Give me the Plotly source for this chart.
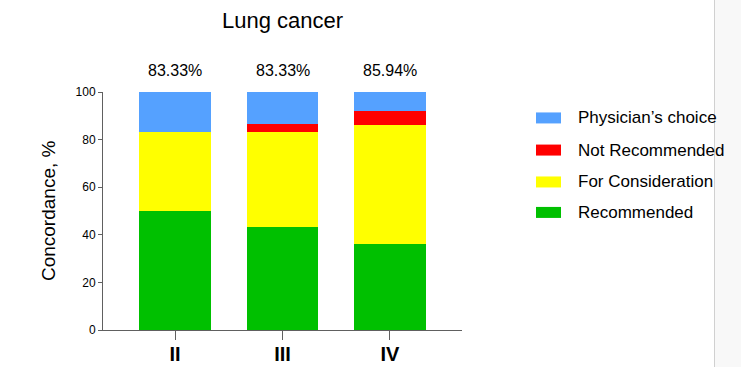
import plotly.graph_objects as go

categories = ["II", "III", "IV"]
series_names = ["Recommended", "For Consideration", "Not Recommended", "Physician\u2019s choice"]
recommended = [50.0, 43.33, 35.94]
for_consideration = [33.33, 40.0, 50.0]
not_recommended = [0.0, 3.33, 6.25]
physicians_choice = [16.67, 13.34, 7.81]
concordance_labels = ["83.33%", "83.33%", "85.94%"]
colors = ["#00C000", "#FFFF00", "#FF0000", "#55A1FF"]
y_ticks = [0, 20, 40, 60, 80, 100]

series_values = [recommended, for_consideration, not_recommended, physicians_choice]
FONT = "Arial, Liberation Sans, sans-serif"

fig = go.Figure()
for name, vals, col in zip(series_names, series_values, colors):
    fig.add_trace(go.Bar(
        x=categories, y=vals, name=name, marker=dict(color=col, line=dict(width=0)),
        width=0.665, showlegend=False,
    ))

annotations = []
for cat, lab in zip(categories, concordance_labels):
    annotations.append(dict(x=cat, y=(330 - 70) / 238, xref="x", yref="paper", text=lab, showarrow=False,
                            font=dict(family=FONT, size=16, color="#000000"),
                            xanchor="center", yanchor="middle"))

# y-axis title
annotations.append(dict(x=-0.153, y=0.5, xref="paper", yref="paper", text="Concordance, %",
                        textangle=-90, showarrow=False, xanchor="center", yanchor="middle",
                        font=dict(family=FONT, size=19, color="#000000")))

# custom legend (top to bottom: reversed series order)
shapes = []
legend_rows = [0.891, 0.756, 0.622, 0.494]
x0 = (536 - 103) / 359
x1 = (561 - 103) / 359
xt = (576 - 103) / 359
for yy, name, col in zip(legend_rows, series_names[::-1], colors[::-1]):
    h = 5.5 / 238
    shapes.append(dict(type="rect", xref="paper", yref="paper", x0=x0, x1=x1, y0=yy - h, y1=yy + h,
                       fillcolor=col, line=dict(width=0)))
    annotations.append(dict(x=xt, y=yy, xref="paper", yref="paper", text=name, showarrow=False,
                            xanchor="left", yanchor="middle",
                            font=dict(family=FONT, size=17, color="#000000")))

# right-side gray panel
px0 = (714.5 - 103) / 359
px1 = (745 - 103) / 359
shapes.append(dict(type="rect", xref="paper", yref="paper", x0=px0, x1=px1, y0=-0.2, y1=1.45,
                   fillcolor="#F8F8F8", line=dict(width=0), layer="below"))
shapes.append(dict(type="line", xref="paper", yref="paper", x0=px0, x1=px0, y0=-0.2, y1=1.45,
                   line=dict(color="#D0D0D0", width=1)))

fig.update_layout(
    template="none",
    barmode="stack",
    width=741, height=367,
    margin=dict(l=103, r=279, t=92, b=37, autoexpand=False),
    paper_bgcolor="#FFFFFF", plot_bgcolor="#FFFFFF",
    title=dict(text="Lung cancer", x=282.5 / 741, xanchor="center", y=1 - 20 / 367, yanchor="middle",
               font=dict(family=FONT, size=22, color="#000000")),
    xaxis=dict(range=[-0.67, 2.67], showgrid=False, zeroline=False, showline=True, automargin=False,
               linecolor="#606060", linewidth=1, ticks="outside", ticklen=9, tickcolor="#606060",
               ticklabelstandoff=-3,
               tickfont=dict(family=FONT, size=20, color="#000000", weight="bold")),
    yaxis=dict(range=[0, 100], tickvals=y_ticks, showgrid=False, zeroline=False, showline=True, automargin=False,
               linecolor="#606060", linewidth=1, ticks="outside", ticklen=4, tickcolor="#606060",
               tickfont=dict(family=FONT, size=12, color="#000000")),
    annotations=annotations,
    shapes=shapes,
)

fig.write_html("out.html", config={"displayModeBar": False},
               post_script="document.body.style.margin='0';document.body.style.overflow='hidden';")
